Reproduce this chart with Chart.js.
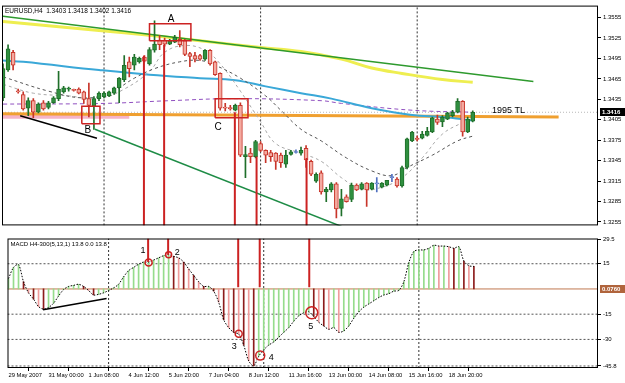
<!DOCTYPE html>
<html>
<head>
<meta charset="utf-8">
<script src="https://cdn.jsdelivr.net/npm/chart.js@4.4.1/dist/chart.umd.min.js"></script>
<style>
    html, body { margin: 0; padding: 0; background: #fff; }
    #wrap { position: relative; width: 625px; height: 383px; overflow: hidden; }
    canvas { position: absolute; left: 0; }
    #priceChart { top: 0; }
    #macdChart { top: 231px; }
</style>
</head>
<body>
<div id="wrap">
    <canvas id="priceChart" width="625" height="231"></canvas>
    <canvas id="macdChart" width="625" height="152"></canvas>
</div>
<script>
// EURUSD H4 candles, 29 May 2007 .. 19 Jun 2007
const opens = [
    1.3437,1.3478,1.3504,1.3447,1.3442,1.3422,1.3433,1.3416,1.3430,1.3423,
    1.3430,1.3436,1.3446,1.3450,1.3449,1.3450,1.3446,1.3436,1.3425,1.3436,
    1.3439,1.3440,1.3444,1.3452,1.3464,1.3490,1.3485,1.3490,1.3497,1.3487,
    1.3507,1.3522,1.3522,1.3516,1.3519,1.3523,1.3521,1.3502,1.3499,1.3499,
    1.3494,1.3507,1.3490,1.3473,1.3423,1.3423,1.3419,1.3426,1.3351,1.3356,
    1.3351,1.3370,1.3360,1.3357,1.3356,1.3353,1.3340,1.3354,1.3357,1.3356,
    1.3363,1.3344,1.3315,1.3327,1.3299,1.3302,1.3311,1.3275,1.3292,1.3288,
    1.3309,1.3303,1.3312,1.3303,1.3311,1.3306,1.3309,1.3320,1.3318,1.3308,
    1.3335,1.3374,1.3378,1.3378,1.3382,1.3387,1.3406,1.3402,1.3406,1.3411,
    1.3416,1.3432,1.3387,1.3403
];
const highs = [
    1.3487,1.3515,1.3507,1.3450,1.3446,1.3437,1.3436,1.3430,1.3433,1.3432,
    1.3439,1.3476,1.3454,1.3453,1.3450,1.3452,1.3447,1.3459,1.3439,1.3446,
    1.3446,1.3447,1.3453,1.3467,1.3499,1.3497,1.3501,1.3497,1.3499,1.3511,
    1.3550,1.3529,1.3525,1.3523,1.3529,1.3536,1.3523,1.3504,1.3504,1.3501,
    1.3508,1.3508,1.3491,1.3474,1.3429,1.3426,1.3428,1.3430,1.3366,1.3363,
    1.3375,1.3373,1.3361,1.3360,1.3357,1.3356,1.3360,1.3360,1.3361,1.3365,
    1.3367,1.3346,1.3327,1.3330,1.3306,1.3313,1.3313,1.3303,1.3295,1.3312,
    1.3311,1.3313,1.3313,1.3313,1.3320,1.3313,1.3316,1.3325,1.3320,1.3337,
    1.3378,1.3388,1.3381,1.3388,1.3394,1.3409,1.3412,1.3411,1.3416,1.3419,
    1.3436,1.3433,1.3409,1.3418
];
const lows = [
    1.3433,1.3476,1.3478,1.3444,1.3419,1.3411,1.3408,1.3415,1.3419,1.3421,
    1.3429,1.3433,1.3444,1.3447,1.3447,1.3443,1.3429,1.3409,1.3391,1.3433,
    1.3437,1.3439,1.3442,1.3430,1.3461,1.3468,1.3478,1.3488,1.3490,1.3485,
    1.3504,1.3508,1.3513,1.3515,1.3518,1.3512,1.3499,1.3483,1.3490,1.3492,
    1.3492,1.3485,1.3470,1.3419,1.3418,1.3419,1.3418,1.3351,1.3320,1.3342,
    1.3349,1.3358,1.3342,1.3344,1.3332,1.3335,1.3335,1.3353,1.3356,1.3353,
    1.3335,1.3323,1.3313,1.3296,1.3285,1.3299,1.3261,1.3264,1.3284,1.3285,
    1.3301,1.3302,1.3278,1.3302,1.3299,1.3305,1.3308,1.3314,1.3306,1.3306,
    1.3333,1.3373,1.3374,1.3377,1.3381,1.3386,1.3398,1.3395,1.3405,1.3409,
    1.3415,1.3381,1.3386,1.3402
];
const closes = [
    1.3480,1.3509,1.3485,1.3446,1.3421,1.3433,1.3416,1.3428,1.3421,1.3430,
    1.3437,1.3450,1.3452,1.3451,1.3448,1.3444,1.3435,1.3426,1.3436,1.3444,
    1.3444,1.3446,1.3452,1.3466,1.3485,1.3480,1.3497,1.3495,1.3491,1.3508,
    1.3516,1.3515,1.3516,1.3521,1.3526,1.3515,1.3501,1.3498,1.3494,1.3494,
    1.3507,1.3487,1.3471,1.3422,1.3422,1.3421,1.3426,1.3353,1.3354,1.3351,
    1.3373,1.3360,1.3353,1.3351,1.3344,1.3342,1.3353,1.3358,1.3357,1.3360,
    1.3346,1.3325,1.3325,1.3299,1.3303,1.3311,1.3274,1.3289,1.3285,1.3309,
    1.3302,1.3311,1.3302,1.3312,1.3311,1.3312,1.3316,1.3320,1.3308,1.3335,
    1.3377,1.3387,1.3376,1.3384,1.3388,1.3408,1.3401,1.3409,1.3415,1.3416,
    1.3432,1.3387,1.3406,1.3416
];

// MACD H4-300(5,13,1) histogram
const macdValues = [
    6.2,12.8,14.5,4.3,-2.3,-6.0,-10.5,-12.0,-11.0,-8.5,
    -4.2,-0.4,1.5,2.1,2.8,1.5,-0.9,-3.6,-3.2,-2.3,
    -0.9,0.6,2.8,7.2,10.9,12.8,14.7,16.0,16.0,17.2,
    18.5,19.8,20.4,19.4,18.5,16.0,11.9,8.1,4.3,1.5,
    1.5,-1.3,-7.9,-18.3,-23.0,-25.8,-26.8,-33.4,-42.8,-45.7,
    -40.0,-36.2,-33.4,-31.5,-28.7,-25.8,-23.0,-19.2,-16.0,-14.2,
    -13.6,-16.4,-19.8,-22.0,-24.0,-23.0,-25.8,-24.9,-22.0,-17.4,
    -13.6,-10.8,-8.9,-7.0,-5.1,-3.6,-2.8,-1.3,-0.9,4.3,
    15.7,22.3,23.2,23.2,24.2,26.0,25.5,25.5,25.1,24.2,
    25.1,16.6,13.8,13.4
];

// axis ticks
const tickBars = [0, 8, 16, 24, 32, 40, 48, 56, 64, 72, 80, 88];
const tickLabels = ['29 May 2007', '31 May 00:00', '1 Jun 08:00', '4 Jun 12:00', '5 Jun 20:00', '7 Jun 04:00',
    '8 Jun 12:00', '11 Jun 16:00', '13 Jun 00:00', '14 Jun 08:00', '15 Jun 16:00', '18 Jun 20:00'];
const priceTicks = [1.3555, 1.3525, 1.3495, 1.3465, 1.3435, 1.3405, 1.3375, 1.3345, 1.3315, 1.3285, 1.3255];
const macdTicks = [29.5, 15, -15, -30, -45.8];
const macdLevels = [15, -15, -30, -45.8];
const lastPrice = 1.3416;
const separatorBars = [20, 51, 82];

// indicator lines (bar index, value)
const yellowMaBars = [0, 19, 29, 39, 51, 59, 67, 73, 79, 87, 93];
const yellowMaVals = [1.3549, 1.3536, 1.3529, 1.3521, 1.3511, 1.3505, 1.3494, 1.3481, 1.3473, 1.3464, 1.3460];
const blueMaBars = [0, 4, 19, 29, 39, 46, 52, 59, 65, 73, 81, 87, 93];
const blueMaVals = [1.3492, 1.3490, 1.3478, 1.3471, 1.3466, 1.3463, 1.3454, 1.3444, 1.3436, 1.3422, 1.3412, 1.3409, 1.3404];
const purpleMaBars = [0, 20, 33, 46, 63, 67, 81, 93];
const purpleMaVals = [1.3428, 1.3429, 1.3433, 1.3436, 1.3433, 1.3429, 1.3419, 1.3416];
const fastMaBars = [0, 6, 13, 19, 24, 29, 32, 36, 40, 43, 47, 51, 54, 59, 63, 67, 71, 75, 79, 83, 87, 91, 93];
const fastMaVals = [1.3457, 1.3444, 1.3440, 1.3436, 1.3450, 1.3476, 1.3504, 1.3514, 1.3507, 1.3487, 1.3447,
    1.3402, 1.3370, 1.3356, 1.3344, 1.3320, 1.3303, 1.3306, 1.3320, 1.3349, 1.3384, 1.3401, 1.3408];
const slowMaBars = [0, 9, 16, 21, 26, 30, 35, 39, 42, 47, 52, 55, 59, 63, 68, 73, 77, 80, 85, 90, 93];
const slowMaVals = [1.3468, 1.3447, 1.3437, 1.3444, 1.3466, 1.3480, 1.3490, 1.3492, 1.3485, 1.3466, 1.3440,
    1.3419, 1.3391, 1.3374, 1.3349, 1.3330, 1.3323, 1.3335, 1.3353, 1.3374, 1.3381];

// hand drawn objects
const greenTlBars = [0, 105], greenTlVals = [1.3557, 1.3461];
const orangeTlBars = [0, 110], orangeTlVals = [1.3414, 1.3409];
const pinkBandBars = [0, 25], pinkBandVals = [1.3410, 1.3410];
const blackTlBars = [3.4, 18.6], blackTlVals = [1.3411, 1.3378];
const channelBars = [18.2, 67.5], channelVals = [1.3391, 1.3247];
const boxA = { bars: [29.0, 37.2], vals: [1.3521, 1.3546] };
const boxB = { bars: [15.6, 19.2], vals: [1.3399, 1.3425] };
const boxC = { bars: [42.0, 48.5], vals: [1.3408, 1.3436] };
const markerBars = [27.9, 31.9, 45.9, 50.2, 60.1];
const markerPriceTops = [1.3499, 1.3515, 1.3416, 1.3351, 1.3349];
const markerMacdEnds = [16, 20.4, 1, 1, 1];
const circleBars = [28, 32, 46, 50.3, 60.6];
const circleVals = [15.8, 20.4, -26.6, -39.6, -14.1];
const circleSizes = [3.5, 3, 3.5, 4.5, 6];
const macdTlBars = [6.9, 19.6], macdTlVals = [-12.3, -5.7];

// scale ranges
const X_MIN = -0.2, X_MAX = 117.8;
const PRICE_MIN = 1.3250, PRICE_MAX = 1.35725;
const MACD_MIN = -47, MACD_MAX = 30;

const FONT = 'Liberation Sans, Arial, sans-serif';
const RED = '#cc2222';

const bars = opens.map((_, i) => i);

// candle colours
const bodyFill = bars.map(i => closes[i] > opens[i] ? '#2f8f3f' : closes[i] < opens[i] ? '#f4aaa0' : '#8fa8e0');
const bodyEdge = bars.map(i => closes[i] > opens[i] ? '#1f6f2a' : closes[i] < opens[i] ? '#c8352a' : '#5070c0');

// histogram colours: green when rising, red shades when falling
const histColors = macdValues.map((v, i) => {
    if (i > 0 && v < macdValues[i - 1]) return i % 2 ? '#8c1c1c' : '#f09c9c';
    return '#96dc8c';
});

function line(xs, ys, color, width, dash, order, tension) {
    return {
        type: 'line',
        data: xs.map((x, k) => ({ x: x, y: ys[k] })),
        borderColor: color,
        borderWidth: width,
        borderDash: dash || [],
        pointRadius: 0,
        fill: false,
        tension: tension || 0,
        order: order
    };
}

function rect(box, order) {
    const [x0, x1] = box.bars, [y0, y1] = box.vals;
    return line([x0, x1, x1, x0, x0], [y0, y0, y1, y1, y0], RED, 1.5, [], order);
}

// frame, axis value boxes and text notes
const decorPlugin = {
    id: 'decor',
    afterDraw(chart, args, opts) {
        const { ctx, chartArea: a, scales: { x, y } } = chart;
        ctx.save();
        ctx.strokeStyle = '#000';
        ctx.lineWidth = 1;
        ctx.strokeRect(a.left + 0.5, a.top + 0.5, a.right - a.left - 1, a.bottom - a.top - 1);

        (opts.boxes || []).forEach(b => {
            const py = Math.round(y.getPixelForValue(b.value));
            ctx.fillStyle = b.bg;
            ctx.fillRect(a.right + 2, py - 4, chart.width - a.right - 2, 8);
            ctx.fillStyle = '#fff';
            ctx.font = 'bold 6px ' + FONT;
            ctx.textAlign = 'left';
            ctx.textBaseline = 'middle';
            ctx.fillText(b.text, a.right + 4, py);
        });

        if (opts.title) {
            ctx.fillStyle = '#000';
            ctx.font = opts.title.font;
            ctx.textAlign = 'left';
            ctx.textBaseline = 'middle';
            ctx.fillText(opts.title.text, a.left + 3, a.top + 6);
        }

        (opts.notes || []).forEach(n => {
            ctx.fillStyle = '#000';
            ctx.font = n.font;
            ctx.textAlign = n.align || 'center';
            ctx.textBaseline = 'middle';
            ctx.fillText(n.text, x.getPixelForValue(n.bar), y.getPixelForValue(n.value));
        });
        ctx.restore();
    }
};

// Price panel
const separatorSets = (lo, hi) => separatorBars.map(b => line([b, b], [lo, hi], '#333', 1, [2, 2], 12));

new Chart(document.getElementById('priceChart'), {
    type: 'bar',
    data: {
        datasets: [
            ...separatorSets(PRICE_MIN, PRICE_MAX),
            line([X_MIN, X_MAX], [lastPrice, lastPrice], '#b8b8b8', 1, [1, 2], 11),
            line(pinkBandBars, pinkBandVals, '#f5b3c8', 5, [], 10),
            line(orangeTlBars, orangeTlVals, '#f0a030', 3, [], 9),
            line(yellowMaBars, yellowMaVals, '#eeee50', 3, [], 9, 0.4),
            line(greenTlBars, greenTlVals, '#2e9a2e', 1.5, [], 8),
            line(blueMaBars, blueMaVals, '#3aa8d8', 2, [], 8, 0.4),
            line(purpleMaBars, purpleMaVals, '#9050c0', 1, [4, 3], 8, 0.4),
            line(slowMaBars, slowMaVals, '#555', 1, [3, 3], 7, 0.4),
            line(fastMaBars, fastMaVals, '#a8a8a8', 1, [3, 3], 7, 0.4),
            line(blackTlBars, blackTlVals, '#000', 1.5, [], 6),
            line(channelBars, channelVals, '#1e8c46', 1.5, [], 6),
            {
                type: 'bar', label: 'wicks',
                data: bars.map(i => ({ x: i, y: [lows[i], highs[i]] })),
                backgroundColor: bodyEdge, barThickness: 1, grouped: false, order: 3
            },
            {
                type: 'bar', label: 'bodies',
                data: bars.map(i => ({ x: i, y: [Math.min(opens[i], closes[i]), Math.max(opens[i], closes[i])] })),
                backgroundColor: bodyFill, borderColor: bodyEdge, borderWidth: 1, borderSkipped: false,
                barThickness: 4, minBarLength: 1, grouped: false, order: 2
            },
            ...markerBars.map((b, k) => line([b, b], [markerPriceTops[k], PRICE_MIN], RED, 2, [], 0)),
            rect(boxA, 0), rect(boxB, 0), rect(boxC, 0)
        ]
    },
    options: {
        responsive: false, animation: false, devicePixelRatio: 1,
        layout: { padding: { left: 2, top: 1, right: 0, bottom: 1 } },
        plugins: {
            legend: { display: false },
            tooltip: { enabled: false },
            decor: {
                boxes: [{ value: lastPrice, text: lastPrice.toFixed(4), bg: '#000' }],
                title: { text: 'EURUSD,H4  1.3403 1.3418 1.3402 1.3416', font: '6.5px ' + FONT },
                notes: [
                    { text: 'A', bar: 33.3, value: 1.3553, font: '10px ' + FONT },
                    { text: 'B', bar: 16.8, value: 1.3389, font: '10px ' + FONT },
                    { text: 'C', bar: 42.6, value: 1.3394, font: '10px ' + FONT },
                    { text: '1995 TL', bar: 96.8, value: 1.3418, font: '9px ' + FONT, align: 'left' }
                ]
            }
        },
        scales: {
            x: { type: 'linear', min: X_MIN, max: X_MAX, offset: false, display: false },
            y: {
                position: 'right', min: PRICE_MIN, max: PRICE_MAX,
                afterFit: s => { s.width = 27; },
                afterBuildTicks: s => { s.ticks = priceTicks.map(v => ({ value: v })); },
                grid: { drawOnChartArea: false, tickLength: 3, color: '#000' },
                border: { display: false },
                ticks: { padding: 2, color: '#000', font: { size: 6, family: FONT }, callback: v => v.toFixed(4) }
            }
        }
    },
    plugins: [decorPlugin]
});

// MACD panel
new Chart(document.getElementById('macdChart'), {
    type: 'bar',
    data: {
        datasets: [
            ...separatorSets(MACD_MIN, MACD_MAX),
            ...macdLevels.map(v => line([X_MIN, X_MAX], [v, v], '#555', 1, [2, 2], 11)),
            line([X_MIN, X_MAX], [0, 0], '#c07850', 1, [], 10),
            {
                type: 'bar', label: 'macd',
                data: bars.map(i => ({ x: i, y: macdValues[i] })),
                backgroundColor: histColors, barThickness: 1, grouped: false, order: 5
            },
            line(bars, macdValues, '#000', 1, [1.5, 1.5], 4, 0.3),
            line(macdTlBars, macdTlVals, '#000', 1.5, [], 3),
            ...markerBars.map((b, k) => line([b, b], [MACD_MAX, markerMacdEnds[k]], RED, 2, [], 1)),
            {
                type: 'line', label: 'circles',
                data: circleBars.map((b, k) => ({ x: b, y: circleVals[k] })),
                showLine: false, pointRadius: circleSizes, pointBorderColor: RED,
                pointBackgroundColor: 'rgba(0,0,0,0)', pointBorderWidth: 1.5, order: 0
            }
        ]
    },
    options: {
        responsive: false, animation: false, devicePixelRatio: 1,
        layout: { padding: { left: 2, top: 1, right: 0, bottom: 0 } },
        plugins: {
            legend: { display: false },
            tooltip: { enabled: false },
            decor: {
                boxes: [{ value: 0, text: '0.0760', bg: '#b0643c' }],
                title: { text: 'MACD H4-300(5,13,1) 13.8 0.0 13.8', font: '6px ' + FONT },
                notes: [
                    { text: '1', bar: 26.9, value: 22.6, font: '9px ' + FONT },
                    { text: '2', bar: 33.7, value: 21.5, font: '9px ' + FONT },
                    { text: '3', bar: 45.1, value: -34.5, font: '9px ' + FONT },
                    { text: '4', bar: 52.5, value: -40.7, font: '9px ' + FONT },
                    { text: '5', bar: 60.4, value: -22.6, font: '9px ' + FONT }
                ]
            }
        },
        scales: {
            x: {
                type: 'linear', min: X_MIN, max: X_MAX, offset: false, position: 'bottom',
                afterFit: s => { s.height = 15; },
                afterBuildTicks: s => { s.ticks = tickBars.map(v => ({ value: v })); },
                grid: { drawOnChartArea: false, tickLength: 3, color: '#000' },
                border: { display: false },
                ticks: {
                    align: 'start', maxRotation: 0, autoSkip: false, padding: 1, color: '#000',
                    font: { size: 5.8, family: FONT }, callback: (v, k) => tickLabels[k]
                }
            },
            y: {
                position: 'right', min: MACD_MIN, max: MACD_MAX,
                afterFit: s => { s.width = 27; },
                afterBuildTicks: s => { s.ticks = macdTicks.map(v => ({ value: v })); },
                grid: { drawOnChartArea: false, tickLength: 3, color: '#000' },
                border: { display: false },
                ticks: { padding: 2, color: '#000', font: { size: 6, family: FONT }, callback: v => String(v) }
            }
        }
    },
    plugins: [decorPlugin]
});
</script>
</body>
</html>
